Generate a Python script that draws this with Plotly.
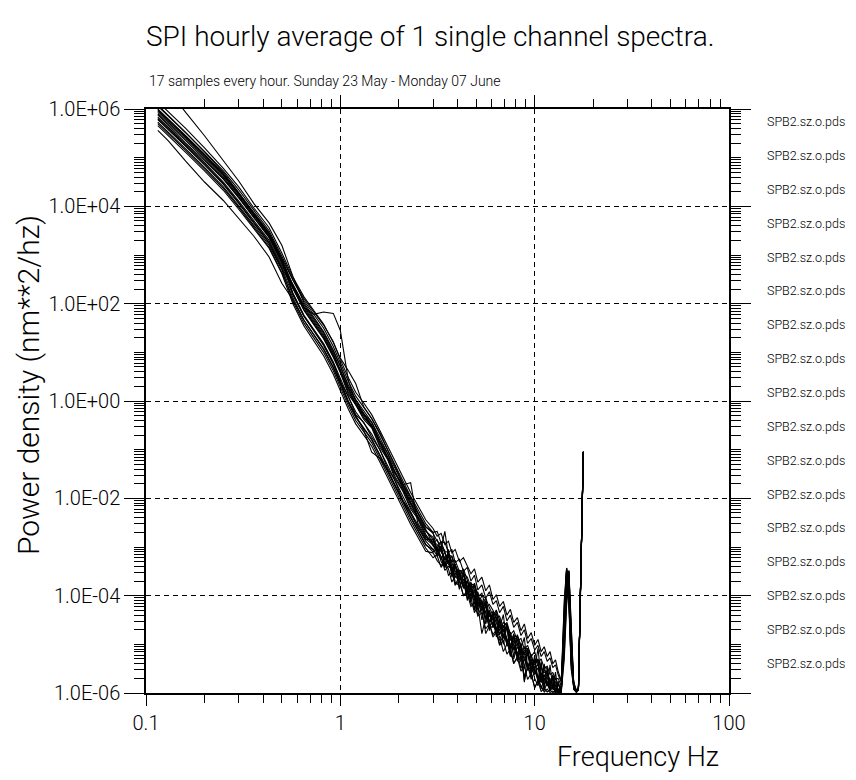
import plotly.graph_objects as go

# ---------------- data ----------------
FREQ_HZ = [
    0.115, 0.13, 0.16, 0.2, 0.25, 0.3, 0.36, 0.43, 0.5, 0.57, 0.65, 0.73, 0.82, 0.92,
    1.0, 1.1, 1.2, 1.32, 1.45, 1.6, 1.75, 1.9, 2.1, 2.3, 2.5, 2.75,
    3.0, 3.15, 3.3, 3.45, 3.6, 3.75, 3.9, 4.1, 4.3, 4.5, 4.7, 4.9, 5.1, 5.35, 5.6, 5.85,
    6.1, 6.35, 6.6, 6.9, 7.2, 7.5, 7.8, 8.15, 8.5, 8.85, 9.2, 9.6, 10.0, 10.4, 10.8, 11.2,
    11.6, 12.0, 12.4, 12.8, 13.2, 13.7, 14.2, 14.6, 15.0, 15.4, 15.9, 16.4, 16.8, 17.2, 17.5, 17.8,
]

# log10 of power density (nm**2/hz), one list per hourly spectrum
SPEC_01 = [6.68, 6.40, 5.93, 5.45, 4.95, 4.52, 4.05, 3.66, 3.20, 2.56, 2.02, 1.72, 1.43, 1.05,
           0.70, 0.33, 0.03, -0.19, -0.43, -0.76, -1.08, -1.38, -1.74, -2.03, -2.29, -2.59,
           -2.70, -3.10, -3.00, -3.40, -3.05, -3.45, -3.35, -3.87, -3.54, -3.80, -4.10, -3.74, -4.18, -4.08, -4.58, -4.33,
           -4.66, -4.29, -4.66, -4.39, -5.02, -4.75, -5.27, -4.80, -5.09, -4.86, -5.53, -5.20, -5.52, -5.08, -5.70, -5.40,
           -5.86, -5.42, -5.92, -5.57, -5.97, -5.93, -4.60, -3.55, -3.90, -5.20, -5.88, -5.98, -5.93, -4.02, -2.00, -1.05]
SPEC_02 = [5.56, 5.35, 4.93, 4.50, 4.12, 3.76, 3.38, 2.96, 2.42, 2.08, 1.66, 1.37, 1.08, 0.70,
           0.35, -0.02, -0.32, -0.54, -0.78, -1.11, -1.43, -1.73, -2.09, -2.38, -2.64, -2.94,
           -3.10, -3.02, -3.20, -3.48, -3.40, -3.45, -3.78, -3.60, -3.72, -4.05, -3.95, -4.02, -4.40, -4.22, -4.35, -4.68,
           -4.62, -4.70, -5.00, -4.80, -4.92, -5.25, -5.05, -5.18, -5.50, -5.30, -5.42, -5.72, -5.55, -5.65, -5.92, -5.70,
           -5.80, -5.95, -5.85, -5.90, -5.99, -5.96, -4.90, -3.80, -3.48, -4.70, -5.85, -5.97, -5.90, -3.98, -1.98, -1.04]
SPEC_03 = [5.98, 5.78, 5.43, 5.05, 4.65, 4.26, 3.84, 3.44, 2.92, 2.38, 1.92, 1.78, 1.83, 1.80,
           1.45, 0.42, -0.02, -0.26, -0.50, -0.84, -1.16, -1.47, -1.83, -2.12, -2.39, -2.68,
           -2.80, -3.20, -2.98, -3.42, -3.15, -3.62, -3.35, -3.85, -3.55, -4.10, -3.78, -4.30, -3.95, -4.50, -4.15, -4.72,
           -4.35, -4.85, -4.50, -5.00, -4.62, -5.20, -4.80, -5.35, -4.98, -5.50, -5.08, -5.65, -5.22, -5.80, -5.35, -5.90,
           -5.48, -5.95, -5.62, -5.98, -5.75, -5.99, -4.30, -3.45, -4.20, -5.50, -5.90, -5.98, -5.92, -4.00, -2.01, -1.06]
SPEC_04 = [6.15, 5.95, 5.60, 5.20, 4.78, 4.40, 3.96, 3.56, 3.04, 2.55, 2.14, 1.86, 1.58, 1.20,
           0.88, 0.62, 0.36, -0.12, -0.36, -0.66, -1.00, -1.30, -1.70, -1.98, -2.28, -2.58,
           -2.72, -2.88, -2.95, -3.08, -3.12, -3.30, -3.28, -3.50, -3.55, -3.62, -3.82, -3.80, -4.02, -3.95, -4.25, -4.18,
           -4.30, -4.48, -4.42, -4.65, -4.55, -4.80, -4.72, -4.92, -4.88, -5.10, -5.02, -5.25, -5.15, -5.38, -5.30, -5.50,
           -5.45, -5.62, -5.58, -5.72, -5.70, -5.85, -5.00, -3.90, -3.52, -4.60, -5.86, -5.97, -5.91, -4.01, -2.00, -1.05]
SPEC_05 = [5.78, 5.58, 5.23, 4.85, 4.45, 4.06, 3.64, 3.24, 2.72, 2.18, 1.74, 1.45, 1.14, 0.76,
           0.40, 0.00, -0.30, -0.60, -1.05, -1.18, -1.42, -1.70, -2.05, -2.32, -2.58, -2.88,
           -3.05, -3.02, -3.30, -3.42, -3.28, -3.38, -3.72, -3.80, -3.66, -3.88, -4.15, -4.25, -4.05, -4.30, -4.78, -4.62,
           -4.55, -4.80, -4.92, -4.70, -4.88, -5.22, -5.30, -5.05, -5.20, -5.75, -5.45, -5.38, -5.70, -5.85, -5.62, -5.95,
           -5.78, -5.96, -5.88, -5.99, -5.95, -5.99, -4.50, -3.60, -4.10, -5.40, -5.92, -5.98, -5.93, -4.03, -2.02, -1.06]
SPEC_06 = [6.08, 5.88, 5.52, 5.12, 4.70, 4.28, 3.82, 3.38, 2.84, 2.34, 1.91, 1.62, 1.33, 0.95,
           0.60, 0.23, -0.07, -0.29, -0.53, -0.86, -1.18, -1.48, -1.72, -1.68, -2.50, -2.80,
           -2.92, -2.85, -3.08, -3.25, -3.15, -3.20, -3.55, -3.48, -3.50, -3.82, -3.75, -3.80, -4.18, -4.00, -4.05, -4.42,
           -4.40, -4.38, -4.72, -4.55, -4.60, -4.92, -4.82, -4.85, -5.22, -5.05, -5.10, -5.42, -5.30, -5.35, -5.68, -5.45,
           -5.50, -5.82, -5.65, -5.70, -5.95, -5.85, -4.20, -3.44, -4.00, -5.30, -5.84, -5.96, -5.90, -3.99, -1.99, -1.05]
SPEC_07 = [5.73, 5.53, 5.18, 4.80, 4.40, 4.01, 3.60, 3.20, 2.70, 2.05, 1.60, 1.30, 1.00, 0.62,
           0.27, -0.10, -0.40, -0.62, -0.86, -1.19, -1.51, -1.81, -2.17, -2.46, -2.72, -3.02,
           -3.22, -3.15, -3.02, -2.68, -3.18, -3.45, -3.58, -3.52, -3.82, -3.70, -4.02, -3.90, -4.22, -4.12, -4.45, -4.30,
           -4.62, -4.48, -4.80, -4.62, -4.95, -4.80, -5.12, -4.98, -5.30, -5.15, -5.45, -5.30, -5.62, -5.48, -5.78, -5.62,
           -5.85, -5.72, -5.92, -5.84, -5.97, -5.94, -4.80, -3.70, -3.50, -4.80, -5.87, -5.97, -5.92, -4.00, -2.00, -1.05]
SPEC_08 = [6.06, 5.86, 5.51, 5.13, 4.73, 4.34, 3.92, 3.50, 2.98, 2.50, 2.10, 1.84, 1.56, 1.22,
           0.85, 0.48, 0.18, -0.04, -0.28, -0.61, -0.93, -1.23, -1.59, -1.88, -2.14, -2.44,
           -2.62, -2.78, -2.72, -2.95, -2.88, -3.12, -3.05, -3.30, -3.22, -3.38, -3.55, -3.45, -3.72, -3.62, -3.90, -3.78,
           -4.08, -3.98, -4.22, -4.12, -4.40, -4.28, -4.55, -4.45, -4.72, -4.58, -4.88, -4.76, -5.02, -4.90, -5.15, -5.05,
           -5.25, -5.15, -5.40, -5.32, -5.55, -5.75, -4.40, -3.43, -3.80, -5.00, -5.80, -5.95, -5.88, -3.98, -1.98, -1.04]
SPEC_09 = [5.66, 5.46, 5.11, 4.73, 4.33, 3.94, 3.53, 3.14, 2.62, 2.00, 1.54, 1.24, 0.93, 0.55,
           0.20, -0.17, -0.47, -0.69, -0.93, -1.26, -1.58, -1.88, -2.24, -2.53, -2.79, -3.09,
           -3.12, -3.28, -3.38, -3.30, -3.58, -3.52, -3.78, -3.70, -4.00, -3.95, -4.22, -4.15, -4.42, -4.35, -4.68, -4.58,
           -4.85, -4.75, -5.02, -4.92, -5.20, -5.10, -5.38, -5.28, -5.55, -5.45, -5.72, -5.60, -5.88, -5.75, -5.97, -5.90,
           -5.98, -5.94, -5.99, -5.97, -5.99, -5.98, -5.20, -4.10, -3.65, -4.90, -5.92, -5.98, -5.94, -4.04, -2.02, -1.06]
SPEC_10 = [5.93, 5.73, 5.38, 5.00, 4.60, 4.21, 3.80, 3.40, 2.88, 2.38, 1.94, 1.65, 1.36, 0.98,
           0.63, 0.26, -0.04, -0.26, -0.50, -0.83, -1.15, -1.45, -1.81, -2.10, -2.36, -2.66,
           -2.85, -3.10, -2.98, -3.28, -3.15, -3.48, -3.35, -3.68, -3.52, -3.90, -3.72, -4.10, -3.92, -4.32, -4.10, -4.55,
           -4.32, -4.70, -4.48, -4.88, -4.62, -5.05, -4.78, -5.22, -4.98, -5.78, -5.15, -5.55, -5.30, -5.72, -5.42, -5.85,
           -5.55, -5.92, -5.68, -5.97, -5.80, -5.98, -4.60, -3.48, -3.90, -5.10, -5.89, -5.98, -5.92, -4.01, -2.00, -1.05]
SPEC_11 = [5.88, 5.66, 5.30, 4.94, 4.56, 4.18, 3.76, 3.36, 2.84, 2.22, 1.76, 1.47, 1.18, 0.80,
           0.45, 0.08, -0.22, -0.44, -0.68, -1.01, -1.33, -1.63, -1.99, -2.28, -2.54, -2.84,
           -2.95, -3.08, -2.98, -3.12, -3.35, -3.50, -3.40, -3.52, -3.80, -3.90, -3.82, -4.00, -4.30, -4.12, -4.22, -4.55,
           -4.40, -4.55, -4.80, -4.62, -4.70, -5.05, -4.88, -4.98, -5.32, -5.12, -5.18, -5.50, -5.30, -5.42, -5.75, -5.52,
           -5.62, -5.90, -5.70, -5.78, -5.96, -5.92, -4.90, -3.56, -3.70, -4.90, -5.90, -5.97, -5.92, -4.02, -2.01, -1.05]
SPEC_12 = [6.00, 5.80, 5.45, 5.07, 4.67, 4.28, 3.86, 3.46, 2.94, 2.48, 2.06, 1.78, 1.50, 1.12,
           0.77, 0.40, 0.10, -0.12, -0.36, -0.69, -1.01, -1.31, -1.67, -1.96, -2.22, -2.52,
           -2.70, -2.68, -2.92, -2.90, -3.12, -3.05, -3.32, -3.25, -3.50, -3.42, -3.70, -3.58, -3.88, -3.78, -4.05, -3.92,
           -4.18, -4.10, -4.35, -4.22, -4.52, -4.40, -4.65, -4.55, -4.82, -4.70, -4.98, -4.88, -5.12, -5.02, -5.25, -5.15,
           -5.35, -5.28, -5.48, -5.42, -5.62, -5.78, -4.10, -3.43, -4.10, -5.40, -5.78, -5.95, -5.88, -3.98, -1.99, -1.04]
SPEC_13 = [5.70, 5.50, 5.15, 4.77, 4.37, 3.98, 3.56, 3.16, 2.64, 2.12, 1.66, 1.36, 1.06, 0.68,
           0.33, -0.04, -0.34, -0.56, -0.80, -1.13, -1.45, -1.75, -2.11, -2.40, -2.66, -2.96,
           -3.05, -3.18, -3.42, -3.30, -3.45, -3.72, -3.60, -3.70, -4.00, -3.90, -4.05, -4.35, -4.20, -4.78, -4.45, -4.58,
           -4.80, -4.70, -4.85, -5.15, -5.00, -5.10, -5.40, -5.25, -5.35, -5.65, -5.50, -5.60, -5.90, -5.75, -5.85, -5.98,
           -5.92, -5.99, -5.96, -5.99, -5.98, -5.99, -5.30, -4.20, -3.70, -4.70, -5.93, -5.99, -5.94, -4.04, -2.02, -1.06]
SPEC_14 = [5.90, 5.70, 5.35, 4.97, 4.57, 4.18, 3.76, 3.36, 2.84, 2.32, 1.86, 1.57, 1.28, 0.90,
           0.58, 0.14, -0.08, -0.38, -0.55, -0.95, -1.20, -1.57, -1.86, -2.22, -2.42, -2.78,
           -2.88, -2.95, -3.10, -3.22, -3.15, -3.35, -3.50, -3.58, -3.52, -3.85, -3.92, -3.88, -4.18, -4.22, -4.18, -4.42,
           -4.48, -4.45, -4.62, -4.72, -4.65, -4.88, -4.98, -4.92, -5.15, -5.22, -5.18, -5.40, -5.48, -5.42, -5.60, -5.65,
           -5.70, -5.75, -5.80, -5.85, -5.92, -5.95, -4.50, -3.52, -3.90, -5.20, -5.88, -5.97, -5.92, -4.00, -2.00, -1.05]
SPEC_15 = [5.83, 5.63, 5.28, 4.90, 4.50, 4.11, 3.70, 3.30, 2.78, 2.40, 1.98, 1.70, 1.40, 1.02,
           0.72, 0.28, 0.02, -0.26, -0.44, -0.82, -1.08, -1.44, -1.74, -2.08, -2.30, -2.64,
           -2.92, -3.12, -3.25, -3.10, -3.30, -3.52, -3.40, -3.60, -3.85, -3.70, -3.90, -4.15, -4.00, -4.20, -4.48, -4.32,
           -4.50, -4.72, -4.60, -4.78, -5.00, -4.88, -5.02, -5.25, -5.10, -5.30, -5.50, -5.35, -5.52, -5.75, -5.60, -5.72,
           -5.85, -5.76, -5.92, -5.94, -5.96, -5.97, -4.70, -3.60, -3.50, -4.80, -5.88, -5.97, -5.92, -4.00, -2.00, -1.05]
SPEC_16 = [5.96, 5.76, 5.41, 5.03, 4.63, 4.24, 3.82, 3.42, 2.90, 2.20, 1.74, 1.44, 1.16, 0.78,
           0.40, 0.10, -0.28, -0.44, -0.74, -1.00, -1.38, -1.62, -2.04, -2.28, -2.60, -2.84,
           -2.85, -3.02, -2.88, -3.12, -3.30, -3.18, -3.38, -3.58, -3.45, -3.68, -3.88, -3.75, -3.98, -4.18, -4.05, -4.25,
           -4.40, -4.30, -4.52, -4.72, -4.60, -4.78, -4.95, -4.82, -5.02, -5.20, -5.08, -5.25, -5.42, -5.30, -5.48, -5.58,
           -5.60, -5.72, -5.68, -5.85, -5.82, -5.96, -4.40, -3.54, -4.00, -5.30, -5.89, -5.97, -5.92, -4.01, -2.01, -1.05]
SPEC_17 = [5.80, 5.60, 5.25, 4.87, 4.47, 4.08, 3.66, 3.26, 2.74, 2.31, 1.88, 1.59, 1.30, 0.92,
           0.62, 0.18, -0.06, -0.34, -0.52, -0.91, -1.17, -1.53, -1.83, -2.18, -2.38, -2.74,
           -2.98, -3.08, -3.20, -3.40, -3.30, -3.45, -3.62, -3.55, -3.78, -3.95, -3.85, -4.05, -4.22, -4.12, -4.35, -4.55,
           -4.45, -4.68, -4.78, -4.70, -4.92, -5.08, -5.00, -5.18, -5.35, -5.25, -5.42, -5.58, -5.50, -5.68, -5.78, -5.70,
           -5.78, -5.88, -5.82, -5.94, -5.95, -5.97, -4.80, -3.48, -3.60, -5.00, -5.86, -5.97, -5.91, -4.00, -2.00, -1.05]

SPECTRA = [SPEC_01, SPEC_02, SPEC_03, SPEC_04, SPEC_05, SPEC_06, SPEC_07, SPEC_08, SPEC_09,
           SPEC_10, SPEC_11, SPEC_12, SPEC_13, SPEC_14, SPEC_15, SPEC_16, SPEC_17]
SERIES_NAMES = ["SPB2.sz.o.pds"] * 17

X_TICK_VALUES = [0.1, 1, 10, 100]
X_TICK_LABELS = ["0.1", "1", "10", "100"]
Y_TICK_VALUES = [1e6, 1e4, 1e2, 1e0, 1e-2, 1e-4, 1e-6]
Y_TICK_LABELS = ["1.0E+06", "1.0E+04", "1.0E+02", "1.0E+00", "1.0E-02", "1.0E-04", "1.0E-06"]

TITLE = "SPI hourly average of 1 single channel spectra."
SUBTITLE = "17 samples every hour. Sunday 23 May - Monday 07 June"
X_TITLE = "Frequency Hz"
Y_TITLE = "Power density (nm**2/hz)"

for s in SPECTRA:
    assert len(s) == len(FREQ_HZ), len(s)

# ---------------- figure ----------------
# the page body keeps an 8px margin, so the figure is sized to fit inside it
FONT = "Roboto, Liberation Sans, Arial, sans-serif"
OFF = 8
W, H = 856 - 2 * OFF, 780 - 2 * OFF
ML, MT = 146 - OFF, 109 - OFF
MR = W - (729 - OFF)
MB = H - (693 - OFF)
PW, PH = W - ML - MR, H - MT - MB

fig = go.Figure()
for i, spec in enumerate(SPECTRA):
    axes = dict(xaxis="x2", yaxis="y2") if i == 0 else {}
    fig.add_trace(go.Scatter(
        x=FREQ_HZ, y=[10 ** v for v in spec], mode="lines",
        line=dict(color="black", width=1.1), name=SERIES_NAMES[i],
        showlegend=False, hoverinfo="skip", **axes))

x_minor = [m * 10 ** e for e in range(-1, 2) for m in range(2, 10)]
y_minor = [m * 10 ** e for e in range(-6, 6) for m in range(1, 10)
           if not (m == 1 and e % 2 == 0)]

axis_common = dict(type="log", showline=True, linecolor="black", linewidth=1.5,
                   ticks="outside", tickcolor="black", tickwidth=1.2, zeroline=False,
                   color="black", tickmode="array")
minor_x = dict(tickmode="array", tickvals=x_minor, ticks="outside", ticklen=8,
               tickcolor="black", tickwidth=1, showgrid=False)
minor_y = dict(tickmode="array", tickvals=y_minor, ticks="outside", ticklen=10,
               tickcolor="black", tickwidth=1, showgrid=False)

fig.update_layout(
    width=W, height=H,
    margin=dict(l=ML, r=MR, t=MT, b=MB, pad=0),
    paper_bgcolor="white", plot_bgcolor="white",
    font=dict(family=FONT, color="black", weight=300),
    showlegend=False,
    xaxis=dict(axis_common, range=[-1, 2], tickvals=X_TICK_VALUES, ticktext=X_TICK_LABELS,
               ticklen=11, tickfont=dict(size=20, weight=300),
               showgrid=True, gridcolor="black", gridwidth=1, griddash="5px,4px",
               minor=minor_x),
    yaxis=dict(axis_common, range=[-6, 6], tickvals=Y_TICK_VALUES, ticktext=Y_TICK_LABELS,
               ticklen=20, tickfont=dict(size=20, weight=300),
               showgrid=True, gridcolor="black", gridwidth=1, griddash="5px,4px",
               minor=minor_y),
    xaxis2=dict(axis_common, range=[-1, 2], overlaying="x", side="top", anchor="y2",
                tickvals=[1, 10], ticklen=12, showticklabels=False, showgrid=False,
                minor=minor_x),
    yaxis2=dict(axis_common, range=[-6, 6], overlaying="y", side="right", anchor="x2",
                tickvals=Y_TICK_VALUES, ticklen=20, showticklabels=False, showgrid=False,
                minor=minor_y),
)


def px_x(px):
    """page x pixel -> paper coordinate"""
    return (px - OFF - ML) / PW


def px_y(py):
    """page y pixel -> paper coordinate"""
    return (H - MB - (py - OFF)) / PH


annotations = [
    dict(text=TITLE, x=px_x(430), y=px_y(37), xref="paper", yref="paper",
         xanchor="center", yanchor="middle", showarrow=False, font=dict(size=28)),
    dict(text=SUBTITLE, x=px_x(147), y=px_y(81), xref="paper", yref="paper",
         xanchor="left", yanchor="middle", showarrow=False, font=dict(size=14)),
    dict(text=X_TITLE, x=px_x(721), y=px_y(757), xref="paper", yref="paper",
         xanchor="right", yanchor="middle", showarrow=False, font=dict(size=27)),
    dict(text=Y_TITLE, x=px_x(28), y=px_y(385), xref="paper", yref="paper",
         xanchor="center", yanchor="middle", showarrow=False, textangle=-90,
         font=dict(size=30)),
]
for i, name in enumerate(SERIES_NAMES):
    annotations.append(dict(text=name, x=px_x(765), y=px_y(121.7 + 33.85 * i),
                            xref="paper", yref="paper", xanchor="left", yanchor="middle",
                            showarrow=False, font=dict(size=12.5)))
fig.update_layout(annotations=annotations)

fig.write_html("out.html")
